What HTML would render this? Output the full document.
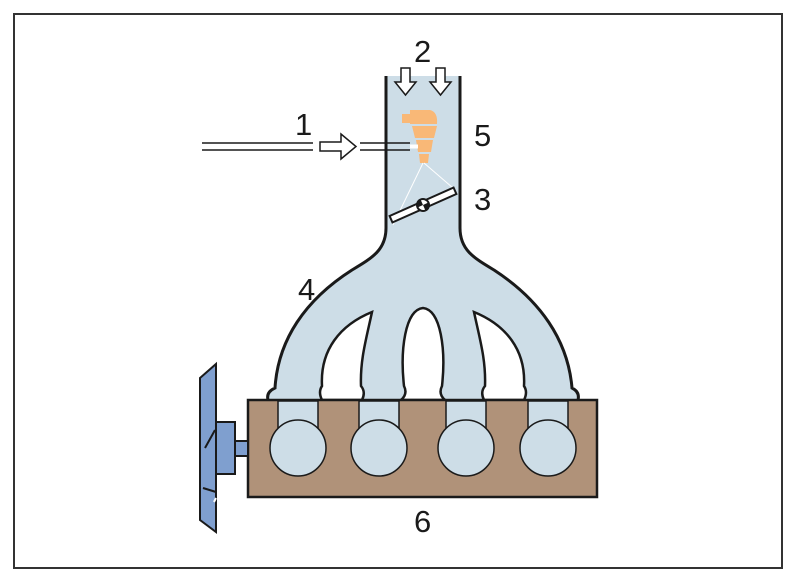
<!DOCTYPE html>
<html><head><style>body{margin:0;background:#fff}svg{display:block}text{font-family:"Liberation Sans",sans-serif;font-size:31px;fill:#1a1a1a}</style></head><body>
<svg width="799" height="583" viewBox="0 0 799 583">
<rect x="14" y="14" width="768" height="554" fill="#fff" stroke="#333" stroke-width="2"/>
<!-- manifold -->
<path d="M386,76 L386,228 C386,250 372,258 352,270 C305,300 278,340 275,388 Q266,392 268,400 L578,400 Q580,392 572,388 C568,340 540,300 494,270 C474,258 460,250 460,228 L460,76 Z" fill="#cddde7"/>
<path d="M386,76 L386,228 C386,250 372,258 352,270 C305,300 278,340 275,388 Q266,392 268,400 M578,400 Q580,392 572,388 C568,340 540,300 494,270 C474,258 460,250 460,228 L460,76" fill="none" stroke="#1a1a1a" stroke-width="3"/>
<g fill="#fff" stroke="#1a1a1a" stroke-width="2.5">
<path d="M322,400 Q318,392 322,386 C320,350 340,325 372,312 C366,340 360,360 361,386 Q366,392 362,400 Z"/>
<path d="M401,400 Q408,394 404,386 C400,350 405,310 423,308 C441,310 446,350 442,386 Q438,394 445,400 Z"/>
<path d="M524,400 Q528,392 524,386 C526,350 506,325 474,312 C480,340 486,360 485,386 Q480,392 484,400 Z"/>
</g>
<!-- block -->
<rect x="248" y="400" width="349" height="97" fill="#b09279" stroke="#1a1a1a" stroke-width="2.5"/>
<g fill="#cddde7" stroke="#1a1a1a" stroke-width="1.5">
<rect x="278" y="401" width="40" height="40"/><rect x="359" y="401" width="40" height="40"/>
<rect x="446" y="401" width="40" height="40"/><rect x="528" y="401" width="40" height="40"/>
<circle cx="298" cy="448" r="28"/><circle cx="379" cy="448" r="28"/>
<circle cx="466" cy="448" r="28"/><circle cx="548" cy="448" r="28"/>
</g>
<!-- fan -->
<g fill="#7f9fcf" stroke="#1a1a1a" stroke-width="2">
<polygon points="200,378 216,364 216,532 200,520"/>
<rect x="216" y="422" width="19" height="52"/>
<rect x="235" y="441" width="13" height="15"/>
</g>
<path d="M205,448 L215,430 M203,488 L216,492" stroke="#1a1a1a" stroke-width="2"/>
<path d="M216,498 L214,502" stroke="#fff" stroke-width="2"/>
<!-- injector line 1 -->
<g stroke="#1a1a1a" stroke-width="1.5">
<line x1="202" y1="143" x2="313" y2="143"/><line x1="202" y1="150" x2="313" y2="150"/>
<line x1="360" y1="143" x2="410" y2="143"/><line x1="360" y1="150" x2="410" y2="150"/>
</g>
<polygon points="320,142 341,142 341,134 356,146.5 341,159 341,151 320,151" fill="#fff" stroke="#1a1a1a" stroke-width="1.5"/>
<!-- injector -->
<g fill="#f9b877">
<rect x="402" y="114" width="12" height="9"/>
<path d="M410,110 L430,110 Q438,112 437,124 L410,124 Z"/>
<path d="M412,126 L437,126 L434,138 L415,138 Z"/>
<path d="M416,140 L433,140 L431,152 L418,152 Z"/>
<path d="M419,154 L429,154 L428,163 L420,163 Z"/>
</g>
<line x1="410" y1="146.5" x2="418" y2="146.5" stroke="#fff" stroke-width="4"/>
<path d="M423,163 L393,225 M424,163 L453,188" stroke="#fff" stroke-width="1"/>
<!-- throttle -->
<g transform="translate(423,205) rotate(-24)">
<rect x="-35" y="-3.5" width="70" height="7" fill="#fff" stroke="#1a1a1a" stroke-width="2"/>
<circle r="6" fill="#fff" stroke="#1a1a1a" stroke-width="2"/>
<path d="M-6,0 A6,6 0 0 1 0,-6 L0,0 Z M6,0 A6,6 0 0 1 0,6 L0,0Z" fill="#1a1a1a"/>
</g>
<!-- arrows 2 -->
<g fill="#fff" stroke="#1a1a1a" stroke-width="1.5">
<polygon points="401,68 410,68 410,82 416,82 405.5,95 395,82 401,82"/>
<polygon points="436,68 445,68 445,82 451,82 440.5,95 430,82 436,82"/>
</g>
<text x="295" y="135">1</text>
<text x="414" y="62">2</text>
<text x="474" y="146">5</text>
<text x="474" y="210">3</text>
<text x="298" y="300">4</text>
<text x="414" y="532">6</text>
</svg>
</body></html>
